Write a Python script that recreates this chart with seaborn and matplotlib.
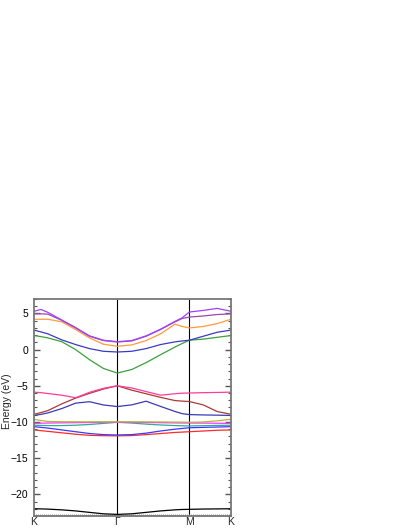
"""
Band structure along K - Gamma - M - K
"""
import numpy as np
import pandas as pd
import matplotlib
matplotlib.use('Agg')
import matplotlib.pyplot as plt
from matplotlib.ticker import MultipleLocator
import seaborn as sns

# high symmetry points (path lengths of the hexagonal BZ, 1/a units)
k_labels = ['K', '\u0393', 'M', 'K']
k_nodes = [0.0, 4.189, 7.817, 9.911]

# sampling fractions along each segment
frac_KG = [0, 1/12, 1/6, 2/6, 3/6, 4/6, 5/6, 1]
frac_GM = [0.2, 0.4, 0.6, 0.8, 0.9, 1]
frac_MK = [1/3, 2/3, 1]

# band energies (eV), lowest to highest
band_01 = [-22.0, -22.02, -22.05, -22.15, -22.3, -22.5, -22.7, -22.78,
           -22.7, -22.5, -22.3, -22.15, -22.1, -22.08, -22.04, -22.02, -22.0]
band_02 = [-11.1, -11.2, -11.3, -11.5, -11.7, -11.85, -11.9, -11.92,
           -11.88, -11.75, -11.6, -11.45, -11.4, -11.35, -11.25, -11.15, -11.1]
band_03 = [-10.65, -10.75, -10.85, -11.1, -11.35, -11.6, -11.75, -11.8,
           -11.75, -11.55, -11.25, -11.0, -10.9, -10.8, -10.75, -10.7, -10.65]
band_04 = [-10.45, -10.48, -10.5, -10.5, -10.45, -10.35, -10.2, -10.05,
           -10.15, -10.3, -10.42, -10.5, -10.53, -10.55, -10.52, -10.48, -10.45]
band_05 = [-10.19, -10.17, -10.15, -10.12, -10.1, -10.08, -10.05, -10.03,
           -10.05, -10.08, -10.1, -10.13, -10.14, -10.15, -10.16, -10.18, -10.19]
band_06 = [-9.63, -9.8, -9.93, -9.97, -9.98, -9.98, -9.98, -9.98,
           -9.98, -9.99, -10.0, -10.02, -10.03, -10.05, -10.0, -9.85, -9.63]
band_07 = [-9.1, -8.95, -8.75, -8.15, -7.4, -7.2, -7.65, -7.87,
           -7.64, -7.13, -7.85, -8.55, -8.85, -8.98, -9.03, -9.06, -9.1]
band_08 = [-8.94, -8.7, -8.43, -7.5, -6.7, -6.05, -5.45, -5.0,
           -5.6, -6.1, -6.6, -7.04, -7.12, -7.18, -7.64, -8.56, -8.94]
band_09 = [-5.88, -5.95, -6.07, -6.3, -6.65, -5.9, -5.35, -5.0,
           -5.3, -5.8, -6.3, -6.1, -6.02, -6.0, -5.95, -5.92, -5.88]
band_10 = [1.95, 1.8, 1.62, 1.1, 0.0, -1.39, -2.6, -3.24,
           -2.75, -1.8, -0.7, 0.35, 0.85, 1.3, 1.45, 1.7, 1.95]
band_11 = [2.7, 2.45, 2.18, 1.35, 0.7, 0.14, -0.23, -0.33,
           -0.23, 0.14, 0.7, 1.07, 1.2, 1.3, 1.85, 2.4, 2.7]
band_12 = [4.2, 4.2, 4.2, 3.85, 2.78, 1.62, 0.75, 0.46,
           0.65, 1.25, 2.18, 3.52, 3.2, 3.0, 3.2, 3.6, 4.2]
band_13 = [4.95, 4.95, 4.9, 4.05, 3.0, 1.85, 1.25, 1.05,
           1.2, 1.85, 2.78, 3.84, 4.3, 4.5, 4.65, 4.85, 4.95]
band_14 = [5.3, 5.55, 5.15, 4.1, 3.05, 1.9, 1.3, 1.1,
           1.25, 1.9, 2.82, 3.9, 4.4, 5.2, 5.42, 5.7, 5.3]

bands = [band_01, band_02, band_03, band_04, band_05, band_06, band_07,
         band_08, band_09, band_10, band_11, band_12, band_13, band_14]
colors = ['#000000', '#ff2a2a', '#3a3aff', '#2fa8a0', '#ff33ff', '#b4b43a',
          '#3a3ab4', '#a83a3a', '#ff3c9a', '#3aa03a', '#3a3ac0', '#ff9a3a',
          '#9a4aaa', '#a040ff']

# k coordinate of every sample
k = ([k_nodes[0] + f * (k_nodes[1] - k_nodes[0]) for f in frac_KG]
     + [k_nodes[1] + f * (k_nodes[2] - k_nodes[1]) for f in frac_GM]
     + [k_nodes[2] + f * (k_nodes[3] - k_nodes[2]) for f in frac_MK])

df = pd.concat([pd.DataFrame({'k': k, 'E': b, 'band': i})
                for i, b in enumerate(bands)], ignore_index=True)

sns.set_style('white')
plt.rcParams['font.family'] = ['Liberation Sans', 'DejaVu Sans']

fig = plt.figure(figsize=(4.09, 5.29), dpi=100)
ax = fig.add_axes([0.0831, 0.0246, 0.4817, 0.4102])

sns.lineplot(data=df, x='k', y='E', hue='band', palette=colors,
             linewidth=0.9, legend=False, sort=False, ax=ax)

for kv in k_nodes[1:3]:
    ax.axvline(kv, color='black', lw=0.8, zorder=0)

ax.set_xlim(k_nodes[0], k_nodes[-1])
ax.set_ylim(-23, 7)
ax.set_xticks(k_nodes)
ax.set_xticklabels(k_labels, fontsize=7.5)
ax.xaxis.set_minor_locator(MultipleLocator(0.1))
ax.yaxis.set_major_locator(MultipleLocator(5))
ax.yaxis.set_minor_locator(MultipleLocator(1))
ax.tick_params(axis='y', which='both', direction='in', left=True, right=True,
               colors='#555555', labelcolor='black', labelsize=7.5)
ax.tick_params(axis='y', which='major', length=4, width=1, pad=4)
ax.tick_params(axis='y', which='minor', length=2, width=0.8)
ax.tick_params(axis='x', which='major', length=0, pad=0.5)
ax.tick_params(axis='x', which='minor', direction='in', bottom=True,
               length=1.5, width=0.6, colors='#888888')
ax.set_xlabel('')
ax.set_ylabel('Energy (eV)', fontsize=7.5)
ax.yaxis.set_label_coords(-0.11, 0.53)

for s in ax.spines.values():
    s.set_color('#777777')
    s.set_linewidth(1.3)

fig.savefig('out.png', dpi=100)
